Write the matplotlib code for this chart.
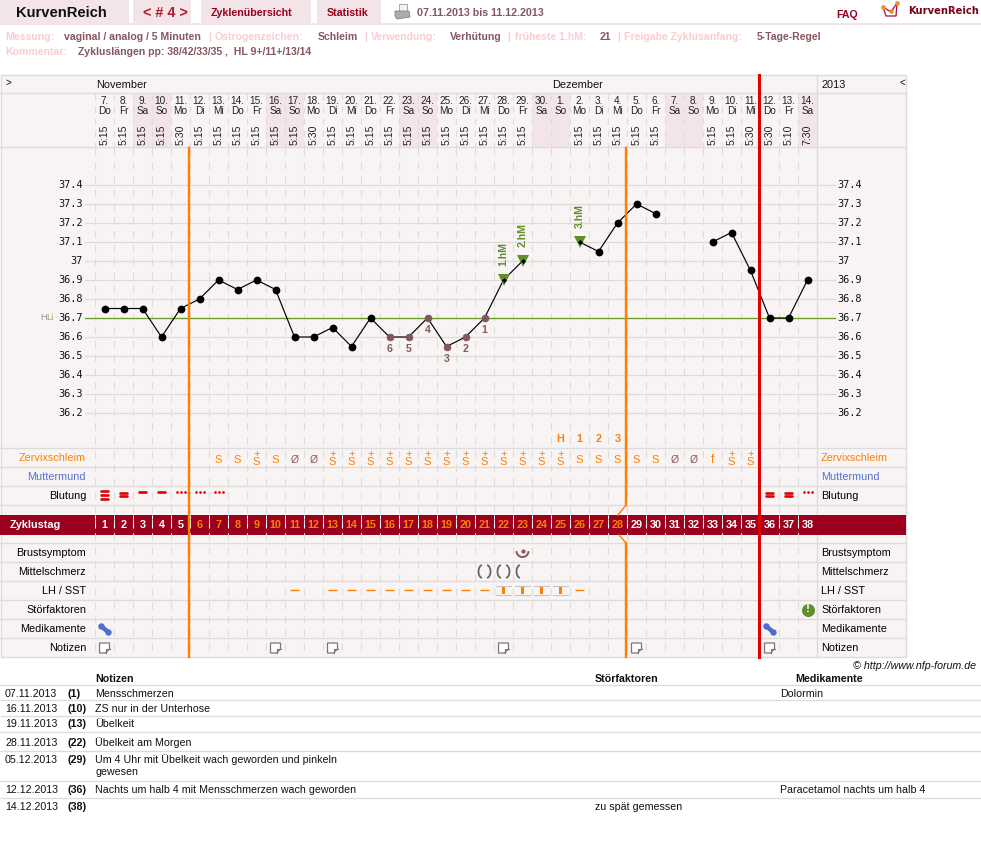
import numpy as np
import matplotlib
matplotlib.use("Agg")
import matplotlib.pyplot as plt
from matplotlib.patches import Polygon, Rectangle

plt.rcParams['font.family'] = ['Liberation Sans', 'DejaVu Sans']

# cycle data
days = np.arange(1, 39)
temps = [36.75, 36.75, 36.75, 36.6, 36.75, 36.8, 36.9, 36.85, 36.9, 36.85,
         36.6, 36.6, 36.65, 36.55, 36.7, 36.6, 36.6, 36.7, 36.55, 36.6,
         36.7, 36.9, 37.0, np.nan, np.nan, 37.1, 37.05, 37.2, 37.3, 37.25,
         np.nan, np.nan, 37.1, 37.15, 36.95, 36.7, 36.7, 36.9]
date_nums = [7, 8, 9, 10, 11, 12, 13, 14, 15, 16, 17, 18, 19, 20, 21, 22, 23, 24,
             25, 26, 27, 28, 29, 30, 1, 2, 3, 4, 5, 6, 7, 8, 9, 10, 11, 12, 13, 14]
weekdays = ['Do', 'Fr', 'Sa', 'So', 'Mo', 'Di', 'Mi'] * 5 + ['Do', 'Fr', 'Sa']
times = ['5:15', '5:15', '5:15', '5:15', '5:30', '5:15', '5:15', '5:15', '5:15', '5:15',
         '5:15', '5:30', '5:15', '5:15', '5:15', '5:15', '5:15', '5:15', '5:15', '5:15',
         '5:15', '5:15', '5:15', '', '', '5:15', '5:15', '5:15', '5:15', '5:15',
         '', '', '5:15', '5:15', '5:30', '5:30', '5:10', '7:30']
temp_ticks = [37.4, 37.3, 37.2, 37.1, 37.0, 36.9, 36.8, 36.7, 36.6, 36.5, 36.4, 36.3, 36.2]
temp_labels = ['37.4', '37.3', '37.2', '37.1', '37', '36.9', '36.8', '36.7',
               '36.6', '36.5', '36.4', '36.3', '36.2']
low_days = [16, 17, 18, 19, 20, 21]
low_nums = ['6', '5', '4', '3', '2', '1']
hm_days = [22, 23, 26]
hm_labels = ['1.hM', '2.hM', '3.hM']
peak_days = [25, 26, 27, 28]
peak_labels = ['H', '1', '2', '3']
mucus = {7: 'S', 8: 'S', 9: 'S+', 10: 'S', 11: 'Ø', 12: 'Ø', 13: 'S+', 14: 'S+', 15: 'S+',
         16: 'S+', 17: 'S+', 18: 'S+', 19: 'S+', 20: 'S+', 21: 'S+', 22: 'S+', 23: 'S+',
         24: 'S+', 25: 'S+', 26: 'S', 27: 'S', 28: 'S', 29: 'S', 30: 'S', 31: 'Ø', 32: 'Ø',
         33: 'f', 34: 'S+', 35: 'S+'}
bleeding = {1: 3, 2: 2, 3: 1, 4: 1, 5: 0, 6: 0, 7: 0, 36: 2, 37: 2, 38: 0}
lh_dash = [11, 13, 14, 15, 16, 17, 18, 19, 20, 21, 26]
lh_box = [22, 23, 24, 25]
pain_days = [21, 22, 23]
breast_days = [23]
med_days = [1, 36]
note_days = [1, 10, 13, 22, 29, 36]
dist_days = [38]
row_labels = ['Zervixschleim', 'Muttermund', 'Blutung', 'Brustsymptom', 'Mittelschmerz',
              'LH / SST', 'Störfaktoren', 'Medikamente', 'Notizen']
row_y = [458, 477, 496, 553, 572, 591, 610, 629, 648]
row_colors = ['#ff8000', '#5570d5', 'black', 'black', 'black', 'black', 'black', 'black', 'black']
note_rows = [('07.11.2013', '(1)', ['Mensschmerzen'], '', 'Dolormin'),
             ('16.11.2013', '(10)', ['ZS nur in der Unterhose'], '', ''),
             ('19.11.2013', '(13)', ['Übelkeit'], '', ''),
             ('28.11.2013', '(22)', ['Übelkeit am Morgen'], '', ''),
             ('05.12.2013', '(29)', ['Um 4 Uhr mit Übelkeit wach geworden und pinkeln', 'gewesen'], '', ''),
             ('12.12.2013', '(36)', ['Nachts um halb 4 mit Mensschmerzen wach geworden'], '',
              'Paracetamol nachts um halb 4'),
             ('14.12.2013', '(38)', [''], 'zu spät gemessen', '')]
note_base_y = [697, 712, 727, 746, 763, 793, 810]
note_line_y = [685, 700, 716, 732, 751, 781, 798]

PANEL = '#f9f4f4'
WEEKEND = '#f3e5e7'
GRID = '#dedbdb'
DARKRED = '#9b001f'
ORANGE = '#ff8000'
RED = '#e00000'
BROWN = '#85585f'
GREEN = '#5f8f2a'
PINK = '#f9cdd0'
PX = 0.72  # one pixel in points at dpi 100
NARROW = ['Liberation Sans Narrow', 'Liberation Sans']


def page_axes(fig, left, width):
    a = fig.add_axes([left / 981, 0, width / 981, 1])
    a.set_ylim(851, 0)
    a.axis('off')
    a.patch.set_alpha(0)
    return a


def arc(ax, d, dx, cy, rx, ry, t0, t1, **kw):
    # elliptical arc around a day column, sizes in pixels
    t = np.radians(np.linspace(t0, t1, 24))
    ax.plot(d + (dx + rx * np.cos(t)) / 19, cy + ry * np.sin(t), **kw)


fig = plt.figure(figsize=(9.81, 8.51), dpi=100)
page = page_axes(fig, 0, 981)
page.set_xlim(0, 981)
grid = page_axes(fig, 95, 722)
grid.set_xlim(0.5, 38.5)

# temperature axes, 19 px per 0.1 degree
temp_ax = fig.add_axes([95 / 981, 1 - 448 / 851, 722 / 981, 300 / 851])
temp_ax.set_xlim(0.5, 38.5)
temp_ax.set_ylim(37.4 - 263 / 190, 37.4 + 37 / 190)
temp_ax.axis('off')
temp_ax.patch.set_alpha(0)
over = page_axes(fig, 95, 722)
over.set_xlim(0.5, 38.5)

# top bar
tabs = [(0, 129), (133, 191), (201, 311), (317, 381)]
for x0, x1 in tabs:
    page.add_patch(Rectangle((x0, 0), x1 - x0, 23, color=WEEKEND, lw=0))
page.add_patch(Rectangle((0, 23), 981, 2, color=WEEKEND, lw=0))
page.text(16, 13, 'KurvenReich', fontsize=10.6, weight='bold', va='center', color='#111111')
page.text(165, 13, '< # 4 >', fontsize=10.4, weight='bold', va='center', ha='center', color='#b01c30')
page.text(211, 16.5, 'Zyklenübersicht', fontsize=7.7, weight='bold', color=DARKRED)
page.text(327, 16.5, 'Statistik', fontsize=7.7, weight='bold', color=DARKRED)
page.text(417, 16, '07.11.2013 bis 11.12.2013', fontsize=7.7, weight='bold', color=BROWN)
page.text(836, 18, 'FAQ', fontsize=7.7, weight='bold', color=DARKRED)
page.text(908, 14, 'KurvenReich', fontsize=7.2, weight='bold', color='#7a0018', family=['DejaVu Sans'])

# printer icon
page.add_patch(Polygon([(399, 4), (407, 4), (407, 11), (399, 11)], fc='#f4f4f4', ec='#9a9a9a', lw=0.6))
page.add_patch(Polygon([(395, 11), (409, 11), (410, 17), (397, 19), (395, 16)], fc='#a9adb2', ec='#808488', lw=0.6))
# logo
page.plot([883, 886, 896, 897, 891, 883], [7, 16, 16, 3, 12, 7], color='#a01040', lw=0.9)
page.plot([883, 891, 897], [7, 11, 3], ls='', marker='o', ms=3.4, color='#f09020', mew=0)

# cycle settings lines
info_line = [(5, 'Messung:', PINK), (64, 'vaginal / analog / 5 Minuten', BROWN), (208, '|', PINK),
             (215, 'Östrogenzeichen:', PINK), (318, 'Schleim', BROWN), (364, '|', PINK),
             (371, 'Verwendung:', PINK), (450, 'Verhütung', BROWN), (507, '|', PINK),
             (515, 'früheste 1.hM:', PINK), (600, '21', BROWN), (617, '|', PINK),
             (624, 'Freigabe Zyklusanfang:', PINK), (757, '5-Tage-Regel', BROWN)]
for x, s, c in info_line:
    page.text(x, 40, s, fontsize=7.6, weight='bold', color=c)
page.text(5, 55, 'Kommentar:', fontsize=7.6, weight='bold', color=PINK)
page.text(78, 55, 'Zykluslängen pp: 38/42/33/35 ,  HL 9+/11+/13/14', fontsize=7.6, weight='bold', color=BROWN)

# chart panel
page.add_patch(Rectangle((0.5, 75), 905.5, 582, fc=PANEL, ec=GRID, lw=1.4 * PX, zorder=0))
for d, wd in zip(days, weekdays):
    if wd in ('Sa', 'So'):
        grid.add_patch(Rectangle((d - 0.5, 94), 1, 53, color=WEEKEND, lw=0, zorder=0.5))

for y in [93, 147, 448, 467, 486, 505, 543, 562, 581, 600, 619, 638]:
    page.plot([0, 906], [y, y], color=GRID, lw=1.4 * PX, zorder=1)
page.plot([817, 817], [75, 657], color=GRID, lw=1.4 * PX, zorder=1)

# day columns
bounds = days - 0.5
grid.vlines(bounds, 94, 147, color=GRID, lw=1.1 * PX, linestyles=(0, (5.5, 5.5)), zorder=1)
grid.vlines(bounds, 148, 657, color=GRID, lw=1.1 * PX, linestyles=(0, (6.5, 6)), zorder=1)

# temperature grid, reaches out past the day columns on both sides
for t, lab in zip(temp_ticks, temp_labels):
    temp_ax.plot([0.5 - 10 / 19, 38.5 + 18 / 19], [t, t], color=GRID, lw=1.3 * PX, clip_on=False, zorder=1)
    temp_ax.text(0.5 - 12 / 19, t, lab, ha='right', va='center', family='DejaVu Sans Mono', fontsize=7.4,
                 clip_on=False, color='#111111')
    temp_ax.text(38.5 + 20 / 19, t, lab, ha='left', va='center', family='DejaVu Sans Mono', fontsize=7.4,
                 clip_on=False, color='#111111')
temp_ax.plot([0.5 - 10 / 19, 38.5 + 18 / 19], [36.7, 36.7], color='#6a9e2a', lw=1.3 * PX, clip_on=False, zorder=2)
page.text(40, 318, 'H', fontsize=6.8, color='#999999', va='center')
page.text(46.5, 318, 'Li', fontsize=6.8, color='#8fb860', va='center')

# month row
page.text(96, 85, 'November', fontsize=7.9, va='center', color='#111111')
page.text(552, 85, 'Dezember', fontsize=7.9, va='center', color='#111111')
page.text(821, 85, '2013', fontsize=7.9, va='center', color='#111111')
page.text(5, 83, '>', fontsize=7, va='center', color='#111111')
page.text(899, 83, '<', fontsize=7, va='center', color='#111111')

# day header
for d, n, wd, tm in zip(days, date_nums, weekdays, times):
    grid.text(d, 101, f'{n}.', fontsize=7.2, ha='center', va='center', color='#222222', family=NARROW)
    grid.text(d, 111, wd, fontsize=7.2, ha='center', va='center', color='#222222', family=NARROW)
    if tm:
        grid.text(d, 134.5, tm, fontsize=7.6, rotation=90, ha='center', va='center', color='#222222', family=NARROW)

# temperature curve
temp_ax.plot(days, temps, color='black', lw=0.85, zorder=4)
normal_days = [d for d in days if d not in low_days and d not in hm_days]
temp_ax.plot(normal_days, [temps[d - 1] for d in normal_days], ls='', color='black', marker='o', ms=5.6, mew=0, zorder=4)
for d, lab in zip(low_days, low_nums):
    t = temps[d - 1]
    temp_ax.plot(d, t, marker='o', ms=5, color=BROWN, mec='#6f4a50', mew=0.4, zorder=5)
    temp_ax.annotate(lab, (d, t), xytext=(0, -12 * PX), textcoords='offset points', ha='center', va='center',
                     fontsize=7.6, weight='bold', color=BROWN, zorder=5)
for d, lab in zip(hm_days, hm_labels):
    t = temps[d - 1]
    temp_ax.plot(d, t, marker='v', ms=8, color=GREEN, mew=0, zorder=5)
    temp_ax.plot(d, t, marker='D', ms=2.6, color='black', mew=0, zorder=6)
    temp_ax.annotate(lab, (d, t), xytext=(0, 26 * PX), textcoords='offset points', ha='center', va='center',
                     rotation=90, fontsize=7.6, weight='bold', color=GREEN, zorder=5)

# marks above the mucus row
for d, lab in zip(peak_days, peak_labels):
    grid.text(d, 439, lab, fontsize=7.8, weight='bold', ha='center', va='center', color=ORANGE)

# row names, both sides
for lab, y, c in zip(row_labels, row_y, row_colors):
    page.text(86, y, lab, fontsize=7.8, ha='right', va='center', color=c)
    page.text(821, y, lab, fontsize=7.8, ha='left', va='center', color=c)

# mucus observations
for d, sym in mucus.items():
    if sym == 'Ø':
        grid.text(d, 460, 'Ø', fontsize=7.4, ha='center', va='center', color=BROWN)
    elif sym == 'f':
        grid.text(d, 460, 'f', fontsize=8.6, ha='center', va='center', color=ORANGE)
    elif sym == 'S+':
        grid.text(d, 467, '+\nS', fontsize=8, ha='center', va='bottom', color=ORANGE, linespacing=0.78)
    else:
        grid.text(d, 460, 'S', fontsize=8, ha='center', va='center', color=ORANGE)

# bleeding
for d, n in bleeding.items():
    if n == 0:
        grid.plot([d - 4 / 19, d, d + 4 / 19], [491.5] * 3, ls='', marker='o', ms=1.9, mew=0, color=RED)
    else:
        ys = {1: [491.5], 2: [492.5, 496], 3: [491.3, 495, 499]}[n]
        for y in ys:
            grid.plot([d - 3.6 / 19, d + 3.6 / 19], [y, y], color=RED, lw=1.9, solid_capstyle='round')

# cycle day band
page.add_patch(Rectangle((0, 515), 906, 19.5, color=DARKRED, lw=0, zorder=2))
page.text(10, 524.5, 'Zyklustag', fontsize=7.8, weight='bold', va='center', color='white', zorder=3)
for d in days:
    c = ORANGE if 6 <= d <= 28 else 'white'
    grid.text(d, 524.5, str(d), fontsize=7.8, weight='bold', ha='center', va='center', color=c, zorder=3)
grid.vlines(bounds, 515, 534, color='white', lw=1 * PX, linestyles=(0, (4, 5)), zorder=3)

# breast symptom
for d in breast_days:
    grid.plot(d, 550.5, marker='o', ms=3, color=BROWN, mew=0)
    arc(grid, d, 0, 551, 6, 6, 10, 170, color=BROWN, lw=1.4)

# mid-cycle pain, brackets; last day only the left one
for d in pain_days:
    arc(grid, d, -2, 571.5, 4, 6.5, 110, 250, color='#666666', lw=1.3)
    if d != pain_days[-1]:
        arc(grid, d, 2, 571.5, 4, 6.5, -70, 70, color='#666666', lw=1.3)

# LH tests
for d in lh_dash:
    grid.plot([d - 4.5 / 19, d + 4.5 / 19], [590, 590], color=ORANGE, lw=1.0, solid_capstyle='butt')
for d in lh_box:
    grid.plot([d - 7.5 / 19, d + 7.5 / 19], [585.5, 585.5], color='#c9c5c5', lw=0.8)
    grid.plot([d - 7.5 / 19, d + 7.5 / 19], [594.5, 594.5], color='#c9c5c5', lw=0.8)
    grid.add_patch(Rectangle((d - 1.5 / 19, 586), 3 / 19, 8, color=ORANGE, lw=0))

# disturbance marker
for d in dist_days:
    grid.plot(d, 610, marker='o', ms=9.4, color=GREEN, mew=0)
    grid.text(d, 609.5, '!', fontsize=8.4, weight='bold', ha='center', va='center', color='white')

# medication pill
for d in med_days:
    grid.plot([d - 3.5 / 19, d + 3 / 19], [626, 631.5], color='#4f6cd0', lw=3.2, solid_capstyle='round',
              marker='o', ms=4.6, mew=0)

# note sheet
for d in note_days:
    pts = [(d - 5 / 19, 643), (d + 5 / 19, 643), (d + 5 / 19, 649), (d + 1 / 19, 653), (d - 5 / 19, 653)]
    grid.add_patch(Polygon(pts, closed=True, fc='#fdfdfd', ec='#777777', lw=0.9))
    grid.plot([d + 1 / 19, d + 1 / 19, d + 5 / 19], [653, 649, 649], color='#777777', lw=0.8)

# cycle phase separators
over.plot([5.45, 5.45], [148, 657], color=ORANGE, lw=2.4 * PX)
over.plot([28.45, 28.45], [148, 505], color=ORANGE, lw=2.4 * PX)
over.plot([28.45, 28.45 - 8 / 19], [505, 515], color=ORANGE, lw=1)
over.plot([28.45 - 7 / 19, 28.45], [535, 543], color=ORANGE, lw=1)
over.plot([28.45, 28.45], [543, 657], color=ORANGE, lw=2.4 * PX)
over.plot([35.47, 35.47], [75, 657], color=RED, lw=3 * PX)

# notes table
page.text(976, 669, '© http://www.nfp-forum.de', fontsize=7.7, style='italic', ha='right', color='#111111')
page.text(95, 682, 'Notizen', fontsize=7.65, weight='bold', color='#111111')
page.text(595, 682, 'Störfaktoren', fontsize=7.65, weight='bold', color='#111111')
page.text(795, 682, 'Medikamente', fontsize=7.65, weight='bold', color='#111111')
page.hlines(note_line_y, 0, 981, color=GRID, lw=1.3 * PX)
for (date, day, note, dist, med), y in zip(note_rows, note_base_y):
    page.text(5, y, date, fontsize=7.65, color='#111111')
    page.text(68, y, day, fontsize=7.65, weight='bold', color='#111111')
    for i, line in enumerate(note):
        page.text(95, y + 12 * i, line, fontsize=7.65, color='#111111')
    page.text(595, y, dist, fontsize=7.65, color='#111111')
    page.text(780, y, med, fontsize=7.65, color='#111111')

fig.savefig('out.png', dpi=100, facecolor='white')
